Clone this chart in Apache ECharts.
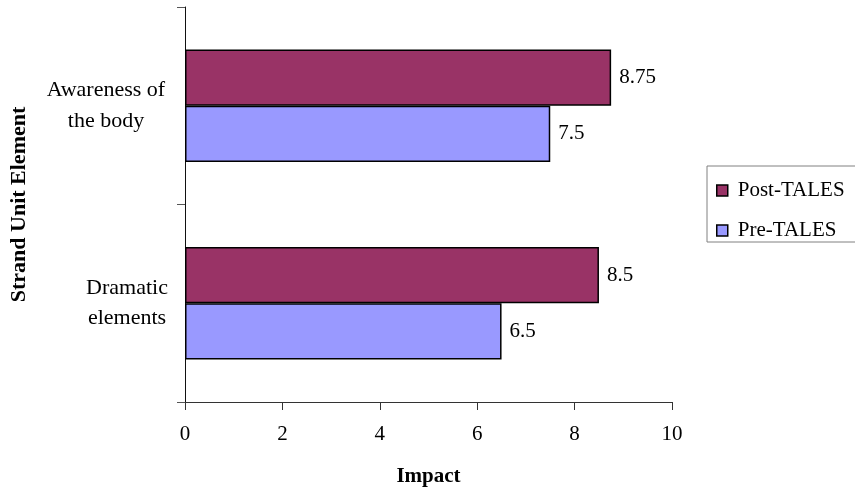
<!DOCTYPE html>
<html>
<head>
<meta charset="utf-8">
<script src="https://cdn.jsdelivr.net/npm/echarts@6/dist/echarts.min.js"></script>
<style>
  html, body { margin: 0; padding: 0; background: #fff; }
  #chart { width: 855px; height: 488px; }
</style>
</head>
<body>
<div id="chart"></div>
<script>
// Categories listed bottom-to-top along the category axis
const categories = ['Dramatic elements', 'Awareness of the body'];
const postTales = [8.5, 8.75];
const preTales = [6.5, 7.5];
const seriesNames = ['Post-TALES', 'Pre-TALES'];
const impactTicks = [0, 2, 4, 6, 8, 10];

const FONT = '"Liberation Serif", "Times New Roman", serif';
const FS = 21;

const chart = echarts.init(document.getElementById('chart'), null, { renderer: 'canvas' });

// Two-line category labels, each line centred within its block
const labelFormat = function (v) {
  if (v === 'Awareness of the body') return '{a|Awareness of}\n{a|the body}';
  if (v === 'Dramatic elements') return '{b|Dramatic}\n{b|elements}';
  return v;
};

chart.setOption({
  animation: false,
  backgroundColor: '#ffffff',
  textStyle: { fontFamily: FONT },
  grid: { left: 185, right: 183, top: 7, bottom: 86, containLabel: false, outerBoundsMode: 'none' },
  legend: {
    orient: 'vertical',
    left: 707,
    top: 166,
    data: seriesNames,
    icon: 'rect',
    itemWidth: 11,
    itemHeight: 11,
    itemGap: 19,
    padding: [14, 24, 1, 9],
    borderColor: '#808080',
    borderWidth: 1,
    itemStyle: { borderColor: '#000', borderWidth: 1.5 },
    textStyle: { fontFamily: FONT, fontSize: FS, color: '#000', padding: [0, 0, 0, 5] }
  },
  xAxis: {
    type: 'value',
    min: impactTicks[0],
    max: impactTicks[impactTicks.length - 1],
    interval: impactTicks[1] - impactTicks[0],
    name: 'Impact',
    nameLocation: 'middle',
    nameGap: 64,
    nameTextStyle: { fontFamily: FONT, fontSize: FS, fontWeight: 'bold', color: '#000' },
    splitLine: { show: false },
    axisLine: { show: true, lineStyle: { color: '#333', width: 1 } },
    axisTick: { show: true, length: 8, lineStyle: { color: '#333' } },
    axisLabel: { fontFamily: FONT, fontSize: FS, color: '#000', margin: 22 }
  },
  yAxis: {
    type: 'category',
    data: categories,
    name: 'Strand Unit Element',
    nameLocation: 'middle',
    nameGap: 155,
    nameTextStyle: { fontFamily: FONT, fontSize: 22, fontWeight: 'bold', color: '#000' },
    axisLine: { show: true, lineStyle: { color: '#111', width: 1 } },
    axisTick: { show: true, length: 8, alignWithLabel: false, lineStyle: { color: '#555' } },
    axisLabel: {
      fontFamily: FONT, fontSize: 22, color: '#000', margin: 18,
      formatter: labelFormat,
      rich: {
        a: { fontFamily: FONT, fontSize: 22, width: 122, align: 'center', lineHeight: 31 },
        b: { fontFamily: FONT, fontSize: 22, width: 80, align: 'center', lineHeight: 30 }
      }
    }
  },
  series: [
    {
      name: 'Post-TALES',
      type: 'bar',
      data: postTales,
      barGap: '0%',
      barCategoryGap: '43%',
      itemStyle: { color: '#993366', borderColor: '#000', borderWidth: 1.5 },
      label: { show: true, position: 'right', distance: 8, fontFamily: FONT, fontSize: FS, color: '#000' }
    },
    {
      name: 'Pre-TALES',
      type: 'bar',
      data: preTales,
      barGap: '0%',
      barCategoryGap: '43%',
      itemStyle: { color: '#9999ff', borderColor: '#000', borderWidth: 1.5 },
      label: { show: true, position: 'right', distance: 8, fontFamily: FONT, fontSize: FS, color: '#000' }
    }
  ]
});
</script>
</body>
</html>
